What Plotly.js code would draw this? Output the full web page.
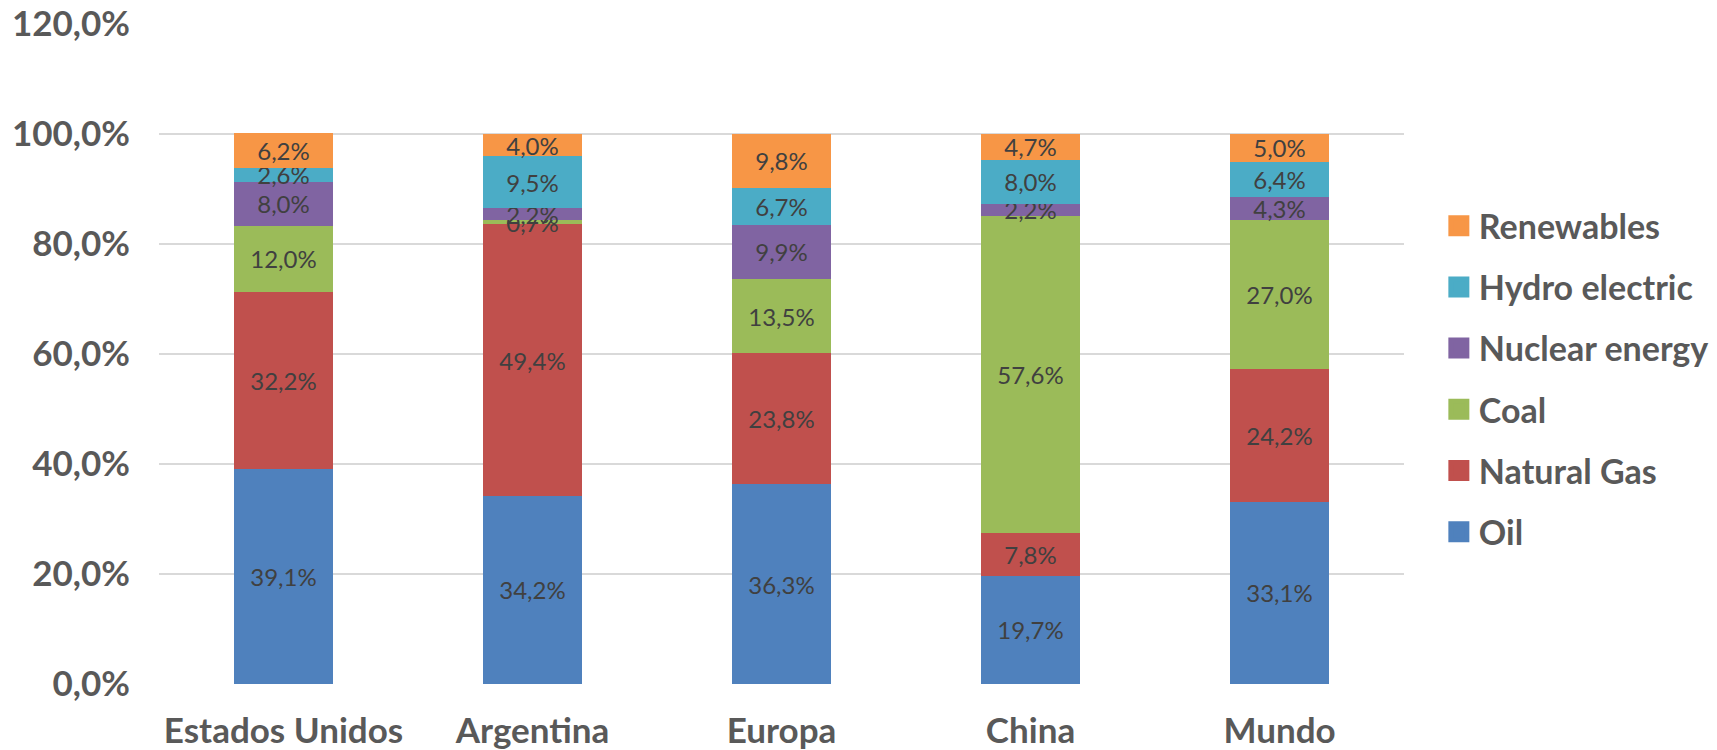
<!DOCTYPE html>
<html>
<head>
<meta charset="utf-8">
<script src="https://cdn.plot.ly/plotly-3.0.1.min.js"></script>
<style>
  html, body { margin: 0; padding: 0; background: #ffffff; }
  #chart { width: 1717px; height: 750px; }
</style>
</head>
<body>
<div id="chart"></div>
<script>
// Regions on the x axis
const regions = ['Estados Unidos', 'Argentina', 'Europa', 'China', 'Mundo'];

// Share of primary energy consumption by source (%)
const oil         = [39.1, 34.2, 36.3, 19.7, 33.1];
const naturalGas  = [32.2, 49.4, 23.8,  7.8, 24.2];
const coal        = [12.0,  0.7, 13.5, 57.6, 27.0];
const nuclear     = [ 8.0,  2.2,  9.9,  2.2,  4.3];
const hydro       = [ 2.6,  9.5,  6.7,  8.0,  6.4];
const renewables  = [ 6.2,  4.0,  9.8,  4.7,  5.0];

// Y axis ticks
const yTicks = [0, 20, 40, 60, 80, 100, 120];
const yTickLabels = ['0,0%', '20,0%', '40,0%', '60,0%', '80,0%', '100,0%', '120,0%'];

// Stacked bottom to top
const series = [
  { name: 'Oil',            values: oil,        color: '#4F81BD' },
  { name: 'Natural Gas',    values: naturalGas, color: '#C0504D' },
  { name: 'Coal',           values: coal,       color: '#9BBB59' },
  { name: 'Nuclear energy', values: nuclear,    color: '#8064A2' },
  { name: 'Hydro electric', values: hydro,      color: '#4BACC6' },
  { name: 'Renewables',     values: renewables, color: '#F79646' }
];

const fmt = v => v.toFixed(1).replace('.', ',') + '%';

const barTraces = series.map(s => ({
  type: 'bar',
  name: s.name,
  legendgroup: s.name,
  showlegend: false,
  x: regions,
  y: s.values,
  text: s.values.map(fmt),
  textposition: 'inside',
  insidetextanchor: 'middle',
  textangle: 0,
  constraintext: 'none',
  cliponaxis: false,
  textfont: { family: 'Lato, sans-serif', size: 24, color: '#404040' },
  marker: { color: s.color, line: { width: 0 } },
  hoverinfo: 'name+y'
}));

// Legend keys: large square swatches, listed top to bottom in reverse stacking order
const legendKeys = series.map((s, i) => ({
  type: 'scatter',
  mode: 'markers',
  name: s.name,
  legendgroup: s.name,
  legendrank: series.length - i,
  x: [null],
  y: [null],
  marker: { symbol: 'square', size: 16, color: s.color, line: { width: 5, color: s.color } },
  hoverinfo: 'skip'
}));

const layout = {
  width: 1717,
  height: 750,
  barmode: 'stack',
  bargap: 0.6,
  paper_bgcolor: '#ffffff',
  plot_bgcolor: '#ffffff',
  margin: { l: 159, r: 313, t: 24, b: 66, autoexpand: false },
  font: { family: 'Lato, sans-serif', color: '#595959' },
  xaxis: {
    type: 'category',
    categoryorder: 'array',
    categoryarray: regions,
    showgrid: false,
    zeroline: false,
    showline: false,
    ticks: '',
    ticklabelstandoff: 23,
    tickfont: { family: 'Lato, sans-serif', size: 35, weight: 'bold', color: '#595959' }
  },
  yaxis: {
    range: [0, 120],
    tickvals: yTicks,
    ticktext: yTickLabels,
    showgrid: true,
    gridcolor: '#D9D9D9',
    gridwidth: 2,
    zeroline: false,
    showline: false,
    ticks: '',
    ticklabelstandoff: 28,
    tickfont: { family: 'Lato, sans-serif', size: 35, weight: 'bold', color: '#595959' }
  },
  showlegend: true,
  legend: {
    traceorder: 'grouped',
    tracegroupgap: 14,
    x: 1.028,
    xanchor: 'left',
    y: 0.462,
    yanchor: 'middle',
    font: { family: 'Lato, sans-serif', size: 34, weight: 'bold', color: '#595959' },
    bgcolor: 'rgba(0,0,0,0)'
  }
};

Plotly.newPlot('chart', barTraces.concat(legendKeys), layout, { displayModeBar: false, staticPlot: true });
</script>
</body>
</html>
